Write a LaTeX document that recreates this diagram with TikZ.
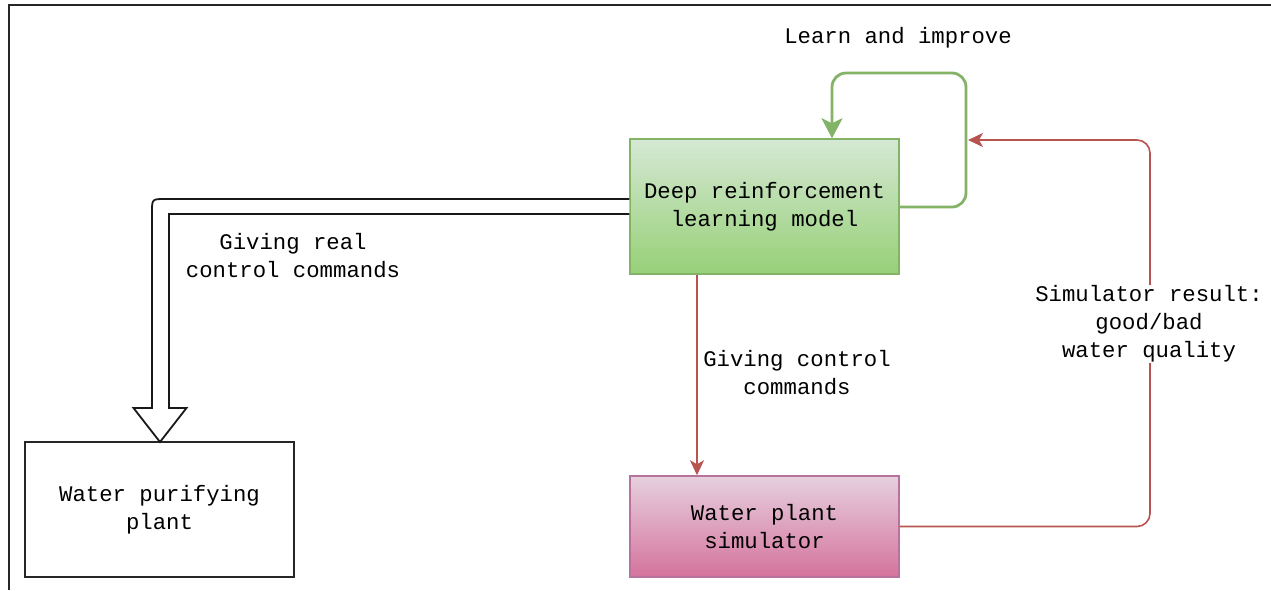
\documentclass[tikz,border=0pt]{standalone}
\usepackage{fontspec}
\setmonofont{Liberation Mono}
\usetikzlibrary{arrows.meta}
\definecolor{grnline}{HTML}{82B366}
\definecolor{grntop}{HTML}{D5E8D4}
\definecolor{grnbot}{HTML}{97D077}
\definecolor{pnkline}{HTML}{B5739D}
\definecolor{pnktop}{HTML}{E6D0DE}
\definecolor{pnkbot}{HTML}{D5739D}
\definecolor{redline}{HTML}{B85450}
\tikzset{
  txt/.style={font=\fontsize{22.3}{28}\selectfont\ttfamily, align=center, text=black},
  box/.style={txt, draw, rectangle, inner sep=0pt},
  lbl/.style={txt, fill=white, inner sep=1pt},
  redarrow/.style={draw=redline, line width=1.6pt, -{Stealth[length=15pt,width=14pt,inset=4pt]}},
  grnarrow/.style={draw=grnline, line width=2.8pt, rounded corners=14pt, -{Stealth[length=20pt,width=21pt,inset=5pt]}},
}
\begin{document}
\begin{tikzpicture}[x=1pt,y=-1pt]
\useasboundingbox (0,0) rectangle (1271,590);
% frame
\draw[line width=2.2pt, black!85] (9,590) -- (9,5) -- (1271,5);

% boxes
\node[box, draw=black!85, line width=1.6pt, fill=white, minimum width=269pt, minimum height=135pt] (plant) at (159.5,509.5) {Water purifying\\plant};
\node[box, draw=grnline, line width=1.5pt, top color=grntop, bottom color=grnbot, minimum width=269pt, minimum height=135pt] (drl) at (764.5,206.5) {Deep reinforcement\\learning model};
\node[box, draw=pnkline, line width=1.5pt, top color=pnktop, bottom color=pnkbot, minimum width=269pt, minimum height=101pt] (sim) at (764.5,526.5) {Water plant\\simulator};

% coordinates
\coordinate (g1) at (966,207);
\coordinate (g2) at (966,73);
\coordinate (g3) at (832,73);
\coordinate (gt) at (832,139);
\coordinate (r1) at (1150,526.5);
\coordinate (r2) at (1150,140);
\coordinate (rt) at (968,140);

% green self loop
\draw[grnarrow] (drl.east |- g1) -- (g1) -- (g2) -- (g3) -- (gt |- drl.north);

% red arrow down
\draw[redarrow] (drl.south -| 697,0) -- (sim.north -| 697,0);

% red return
\draw[redarrow, rounded corners=13pt] (sim.east) -- (r1) -- (r2) -- (rt);

% hollow arrow
\draw[line width=1.8pt, black!90, fill=white, line join=miter]
  (drl.west |- 0,199) -- (165,199) .. controls (152,199) .. (152,212)
  -- (152,408) -- (133.5,408) -- (160,442) -- (186.5,408) -- (169,408)
  -- (169,214) -- (drl.west |- 0,214);

% labels
\node[lbl] (lreal) at (293,255.5) {Giving real\\control commands};
\node[lbl] (lctrl) at (797,372.5) {Giving control\\commands};
\node[lbl] (lsim) at (1149,324) {Simulator result:\\good/bad\\water quality};
\node[lbl] (llearn) at (898,38) {Learn and improve};
\end{tikzpicture}
\end{document}
